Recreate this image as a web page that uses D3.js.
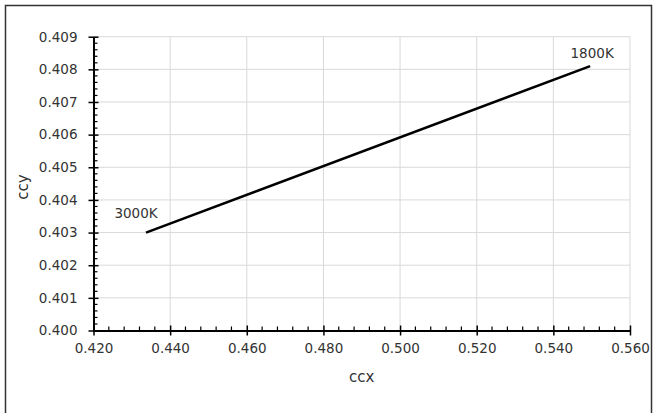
<!DOCTYPE html>
<html>
<head>
<meta charset="utf-8">
<script src="https://cdn.jsdelivr.net/npm/d3@7"></script>
<style>
  body { margin: 0; background: #fff; }
  svg text { font-family: "DejaVu Sans", sans-serif; fill: #333; }
</style>
</head>
<body>
<svg id="chart" width="655" height="413"></svg>
<script>
// data
var ccx = [0.4337, 0.5496];
var ccy = [0.4030, 0.4081];
var pointLabels = ["3000K", "1800K"];
var xTicks = [0.42, 0.44, 0.46, 0.48, 0.50, 0.52, 0.54, 0.56];
var yTicks = [0.400, 0.401, 0.402, 0.403, 0.404, 0.405, 0.406, 0.407, 0.408, 0.409];

var svg = d3.select("#chart");

// outer frame
svg.append("rect")
  .attr("x", 5.5).attr("y", 5.5)
  .attr("width", 646).attr("height", 420)
  .attr("fill", "none").attr("stroke", "#333").attr("stroke-width", 1.5);

var x = d3.scaleLinear().domain([0.42, 0.56]).range([93.5, 630]);
var y = d3.scaleLinear().domain([0.400, 0.409]).range([330.5, 36.7]);

// gridlines
svg.append("g").selectAll("line").data(xTicks.slice(1)).join("line")
  .attr("x1", d => x(d)).attr("x2", d => x(d))
  .attr("y1", y(0.409)).attr("y2", y(0.400))
  .attr("stroke", "#d9d9d9").attr("stroke-width", 1);
svg.append("g").selectAll("line").data(yTicks.slice(1)).join("line")
  .attr("x1", x(0.42)).attr("x2", x(0.56))
  .attr("y1", d => y(d)).attr("y2", d => y(d))
  .attr("stroke", "#d9d9d9").attr("stroke-width", 1);

// minor ticks (5 subdivisions)
var xMinor = d3.range(0, 35).map(i => 0.42 + i * 0.004).filter((d, i) => i % 5 != 0);
var yMinor = d3.range(0, 45).map(i => 0.400 + i * 0.0002).filter((d, i) => i % 5 != 0);

svg.append("g").selectAll("line").data(xMinor).join("line")
  .attr("x1", d => x(d)).attr("x2", d => x(d))
  .attr("y1", y(0.400)).attr("y2", y(0.400) - 4)
  .attr("stroke", "#000").attr("stroke-width", 1.2);
svg.append("g").selectAll("line").data(yMinor).join("line")
  .attr("x1", x(0.42)).attr("x2", x(0.42) + 4)
  .attr("y1", d => y(d)).attr("y2", d => y(d))
  .attr("stroke", "#000").attr("stroke-width", 1.2);

// axes
var xAxis = svg.append("g")
  .attr("transform", "translate(0," + y(0.400) + ")")
  .call(d3.axisBottom(x).tickValues(xTicks).tickFormat(d3.format(".3f")).tickSizeInner(5).tickSizeOuter(0).tickPadding(8));
xAxis.selectAll(".tick line").attr("y1", -5).attr("stroke-width", 1.5);
var yAxis = svg.append("g")
  .attr("transform", "translate(" + x(0.42) + ",0)")
  .call(d3.axisLeft(y).tickValues(yTicks).tickFormat(d3.format(".3f")).tickSizeInner(5).tickSizeOuter(0).tickPadding(11));
yAxis.selectAll(".tick line").attr("x1", 5).attr("stroke-width", 1.5);

[xAxis, yAxis].forEach(function(a) {
  a.attr("font-size", null).attr("font-family", null);
  a.select(".domain").attr("stroke", "#000").attr("stroke-width", 2);
  a.selectAll("text").style("font-size", "13.5px").attr("fill", "#333");
});

// axis titles
svg.append("text").attr("x", (x(0.42) + x(0.56)) / 2).attr("y", 382)
  .attr("text-anchor", "middle").style("font-size", "15px").text("ccx");
svg.append("text").attr("transform", "translate(28," + 187 + ") rotate(-90)")
  .attr("text-anchor", "middle").style("font-size", "15px").text("ccy");

// series
var pts = ccx.map((d, i) => [d, ccy[i]]);
svg.append("path")
  .datum(pts)
  .attr("d", d3.line().x(d => x(d[0])).y(d => y(d[1])))
  .attr("fill", "none").attr("stroke", "#000").attr("stroke-width", 2.5);

// data labels
svg.append("text").attr("x", x(ccx[0]) - 10).attr("y", y(ccy[0]) - 15)
  .attr("text-anchor", "middle").style("font-size", "13.5px").text(pointLabels[0]);
svg.append("text").attr("x", x(ccx[1]) + 2).attr("y", y(ccy[1]) - 8)
  .attr("text-anchor", "middle").style("font-size", "13.5px").text(pointLabels[1]);
</script>
</body>
</html>
